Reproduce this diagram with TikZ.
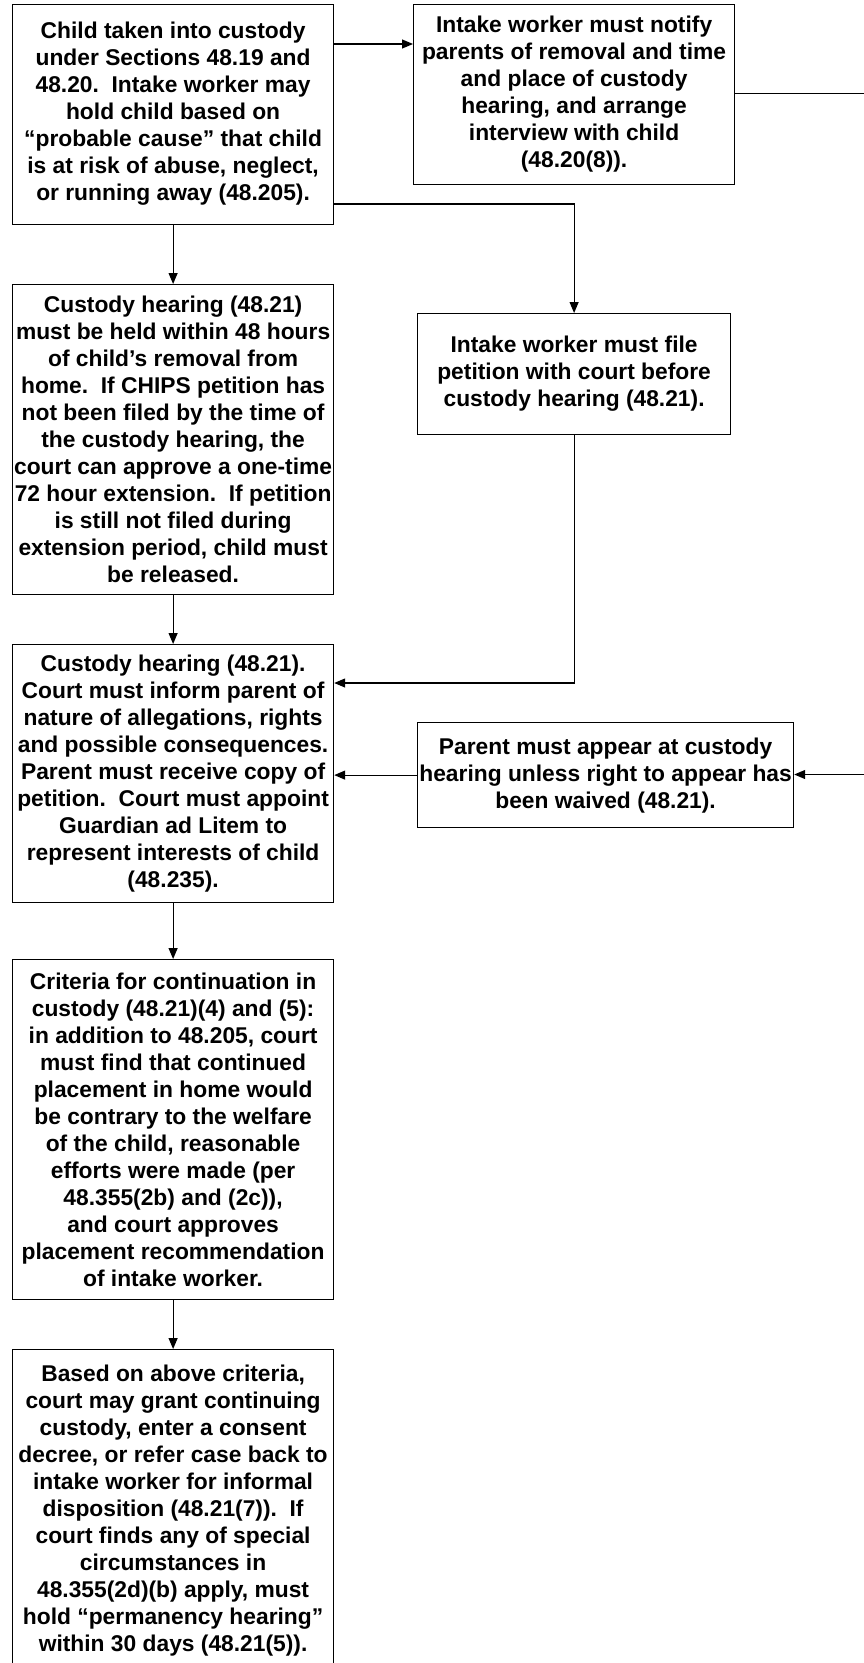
\documentclass[tikz,border=0pt]{standalone}
\usepackage{fontspec}
\setmainfont{Liberation Sans}
\frenchspacing
\usetikzlibrary{arrows.meta}
\tikzset{
  box/.style={draw, line width=1.2pt, rectangle, anchor=north west, align=center,
    inner xsep=0pt, inner ysep=0pt,
    font=\bfseries\fontsize{22.8}{#1}\selectfont},
  arr/.style={line width=1.2pt, -{Triangle[length=11pt,width=9pt]}},
  ln/.style={line width=1.2pt}
}
\begin{document}
\begin{tikzpicture}[x=1pt,y=-1pt]
\useasboundingbox (0,0) rectangle (864,1663);
% boxes
\node[box=27, minimum width=321pt, minimum height=220pt] (b1) at (12,3.5)
 {Child taken into custody\\under Sections 48.19 and\\48.20.~ Intake worker may\\hold child based on\\“probable cause” that child\\is at risk of abuse, neglect,\\or running away (48.205).};
\node[box=27, minimum width=321pt, minimum height=180pt] (b2) at (413,3.5)
 {Intake worker must notify\\parents of removal and time\\and place of custody\\hearing, and arrange\\interview with child\\(48.20(8)).};
\node[box=27, minimum width=313pt, minimum height=121pt] (b3) at (417,313)
 {Intake worker must file\\petition with court before\\custody hearing (48.21).};
\node[box=27, minimum width=321pt, minimum height=310pt] (ch1) at (12,284)
 {Custody hearing (48.21)\\must be held within 48 hours\\of child’s removal from\\home.~ If CHIPS petition has\\not been filed by the time of\\the custody hearing, the\\court can approve a one-time\\72 hour extension.~ If petition\\is still not filed during\\extension period, child must\\be released.};
\node[box=27, minimum width=321pt, minimum height=258pt] (ch2) at (12,644)
 {Custody hearing (48.21).\\Court must inform parent of\\nature of allegations, rights\\and possible consequences.\\Parent must receive copy of\\petition.~ Court must appoint\\Guardian ad Litem to\\represent interests of child\\(48.235).};
\node[box=27, minimum width=376pt, minimum height=105pt] (par) at (417,722)
 {Parent must appear at custody\\hearing unless right to appear has\\been waived (48.21).};
\node[box=27, minimum width=321pt, minimum height=340pt] (cr) at (12,959)
 {Criteria for continuation in\\custody (48.21)(4) and (5):\\in addition to 48.205, court\\must find that continued\\placement in home would\\be contrary to the welfare\\of the child, reasonable\\efforts were made (per\\48.355(2b) and (2c)),\\and court approves\\placement recommendation\\of intake worker.};
\node[box=27, minimum width=321pt, minimum height=322pt] (bs) at (12,1349)
 {Based on above criteria,\\court may grant continuing\\custody, enter a consent\\decree, or refer case back to\\intake worker for informal\\disposition (48.21(7)).~ If\\court finds any of special\\circumstances in\\48.355(2d)(b) apply, must\\hold “permanency hearing”\\within 30 days (48.21(5)).};
% free ends
\coordinate (e1) at (864,93.5);
\coordinate (e2) at (864,774.5);
% connectors
\draw[arr] (b1.east |- 0,44) -- (b2.west |- 0,44);
\draw[ln] (b2.east |- e1) -- (e1);
\draw[arr] (b1.east |- 0,204) -| (b3.north);
\draw[arr] (b1.south) -- (ch1.north);
\draw[arr] (ch1.south) -- (ch2.north);
\draw[arr] (b3.south) |- (ch2.east |- 0,683);
\draw[arr] (par.west) -- (ch2.east |- par.west);
\draw[arr] (e2) -- (par.east |- e2);
\draw[arr] (ch2.south) -- (cr.north);
\draw[arr] (cr.south) -- (bs.north);
\end{tikzpicture}
\end{document}
